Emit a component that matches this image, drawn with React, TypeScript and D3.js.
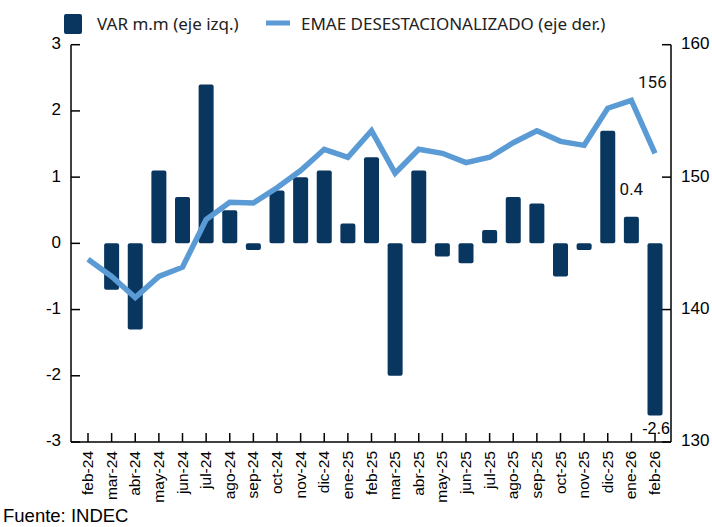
import React from 'react'
import * as d3 from 'd3'

const months = [
  'feb-24', 'mar-24', 'abr-24', 'may-24', 'jun-24', 'jul-24', 'ago-24', 'sep-24', 'oct-24',
  'nov-24', 'dic-24', 'ene-25', 'feb-25', 'mar-25', 'abr-25', 'may-25', 'jun-25', 'jul-25',
  'ago-25', 'sep-25', 'oct-25', 'nov-25', 'dic-25', 'ene-26', 'feb-26'
]
const varMm = [
  0, -0.7, -1.3, 1.1, 0.7, 2.4, 0.5, -0.1, 0.8, 1.0, 1.1, 0.3, 1.3,
  -2.0, 1.1, -0.2, -0.3, 0.2, 0.7, 0.6, -0.5, -0.1, 1.7, 0.4, -2.6
]
const emae = [
  143.8, 142.5, 140.9, 142.5, 143.2, 146.8, 148.1, 148.05, 149.2, 150.5, 152.1, 151.5, 153.5,
  150.3, 152.1, 151.8, 151.1, 151.5, 152.6, 153.5, 152.7, 152.4, 155.2, 155.8, 151.8
]
const leftTicks = [-3, -2, -1, 0, 1, 2, 3]
const rightTicks = [130, 140, 150, 160]

const BAR = '#08365f'
const LINE = '#5b9bd5'
const AXIS_FONT = '"Liberation Sans", Arial, sans-serif'
const LEGEND_FONT = '"Noto Sans", sans-serif'

export default function App() {
  const width = 712
  const height = 527
  const top = 44.7
  const bottom = 442
  const leftX = 71
  const rightX = 671

  const x = d3.scalePoint<string>().domain(months).range([88, 655])
  const yL = d3.scaleLinear().domain([-3, 3]).range([bottom, top])
  const yR = d3.scaleLinear().domain([130, 160]).range([bottom, top])
  const barW = 15

  const line = d3.line<number>()
    .x((_, i) => x(months[i])!)
    .y(d => yR(d))

  const last = months.length - 1

  return (
    <svg width={width} height={height} style={{ position: 'absolute', left: 0, top: 0 }}>
      <rect width={width} height={height} fill="#fff" />

      {/* legend */}
      <rect x={64} y={14} width={18} height={20} rx={2} fill={BAR} />
      <text x={97} y={30} fontSize={17} fontFamily={LEGEND_FONT} fill="#222">
        VAR m.m (eje izq.)
      </text>
      <line x1={266} x2={290} y1={23} y2={23} stroke={LINE} strokeWidth={5} />
      <text x={301} y={30} fontSize={17} fontFamily={LEGEND_FONT} fill="#222">
        EMAE DESESTACIONALIZADO (eje der.)
      </text>

      {/* bars */}
      {varMm.map((v, i) => (
        v === 0 ? null :
        <rect
          key={months[i]}
          x={x(months[i])! - barW / 2}
          y={yL(Math.max(0, v))}
          width={barW}
          height={Math.abs(yL(v) - yL(0))}
          rx={2}
          fill={BAR}
        />
      ))}

      {/* EMAE line */}
      <path d={line(emae)!} fill="none" stroke={LINE} strokeWidth={5.5} strokeLinejoin="miter" />

      {/* left axis */}
      <line x1={leftX} x2={leftX} y1={top} y2={bottom} stroke="#000" strokeWidth={1.5} />
      {leftTicks.map(t => (
        <g key={t}>
          <line x1={leftX} x2={leftX + 9} y1={yL(t)} y2={yL(t)} stroke="#000" strokeWidth={1.5} />
          <text x={61} y={yL(t)} textAnchor="end" dominantBaseline="middle" fontSize={17} fontFamily={AXIS_FONT} fill="#000">
            {t}
          </text>
        </g>
      ))}

      {/* right axis */}
      <line x1={rightX} x2={rightX} y1={top} y2={bottom} stroke="#000" strokeWidth={1.5} />
      {rightTicks.map(t => (
        <g key={t}>
          <line x1={rightX - 9} x2={rightX} y1={yR(t)} y2={yR(t)} stroke="#000" strokeWidth={1.5} />
          <text x={681} y={yR(t)} dominantBaseline="middle" fontSize={17} fontFamily={AXIS_FONT} fill="#000">
            {t}
          </text>
        </g>
      ))}

      {/* category axis */}
      <line x1={leftX} x2={rightX} y1={bottom} y2={bottom} stroke="#000" strokeWidth={1.5} />
      {months.map(m => (
        <g key={m}>
          <line x1={x(m)!} x2={x(m)!} y1={bottom} y2={bottom - 9} stroke="#000" strokeWidth={1.5} />
          <text
            transform={`translate(${x(m)! + 1},${bottom + 9}) rotate(-90)`}
            textAnchor="end"
            dominantBaseline="middle"
            fontSize={15.5}
            fontFamily={AXIS_FONT}
            fill="#000"
          >
            {m}
          </text>
        </g>
      ))}

      {/* annotations */}
      <text x={x(months[last - 1])! + 21} y={yR(emae[last - 1]) - 17} textAnchor="middle" dominantBaseline="middle"
        fontSize={17} fontFamily='Roboto, sans-serif' fill="#111">156</text>
      <text x={x(months[last - 1])!} y={yL(varMm[last - 1]) - 26} textAnchor="middle" dominantBaseline="middle"
        fontSize={17} fontFamily='Roboto, sans-serif' fill="#111">{varMm[last - 1]}</text>
      <text x={x(months[last])! + 1} y={yL(varMm[last]) + 14} textAnchor="middle" dominantBaseline="middle"
        fontSize={16} fontFamily={AXIS_FONT} fill="#000">{varMm[last]}</text>

      <text x={3} y={522} fontSize={18.5} fontFamily={AXIS_FONT} fill="#000">Fuente: INDEC</text>
    </svg>
  )
}
